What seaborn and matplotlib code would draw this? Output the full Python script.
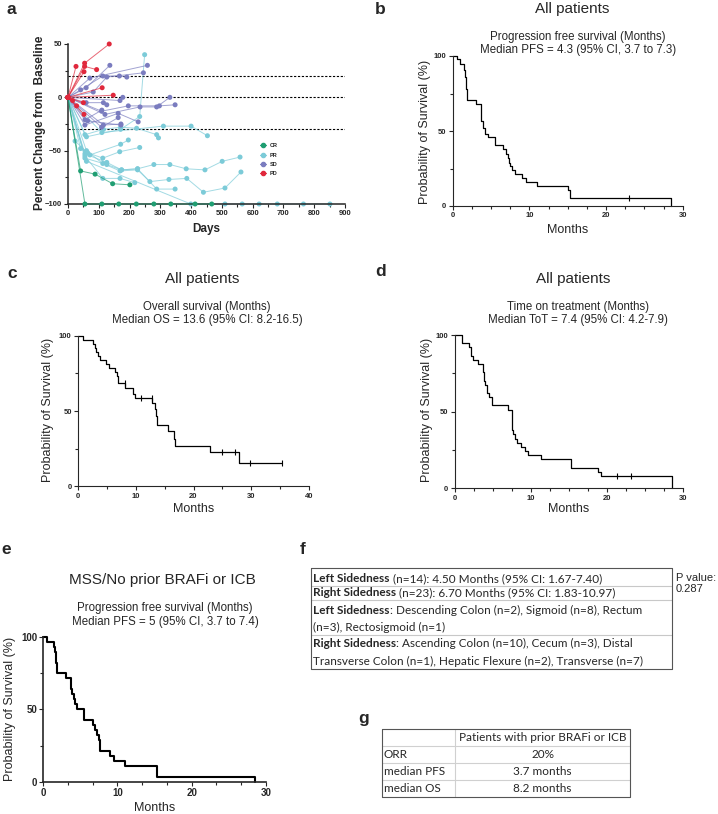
import matplotlib
matplotlib.use("Agg")
import matplotlib.pyplot as plt
from matplotlib.lines import Line2D
from matplotlib.ticker import MultipleLocator, AutoMinorLocator
import seaborn as sns
import pandas as pd

W, H = 718, 814

# ---------------- panel a: spider plot (days, % change) ----------------
CR_DAYS = [[0, 41, 88, 145, 201],
           [0, 55, 110, 165, 222, 279, 334, 413, 467]]
CR_PCT = [[0, -69, -72, -81, -82],
          [0, -100, -100, -100, -100, -100, -100, -100, -100]]

PR_DAYS = [[0, 60, 171, 233, 249],
           [0, 55, 115, 171, 223, 288, 294],
           [0, 110, 310, 400, 453],
           [0, 23, 71, 171, 196],
           [0, 41, 64, 113, 168, 233],
           [0, 55, 126, 174, 226, 279, 331, 384, 445, 501, 559],
           [0, 60, 113, 169, 226, 266, 328, 386, 440, 510, 562],
           [0, 55, 126, 174, 226, 288, 348],
           [0, 55, 113, 169, 217],
           [0, 60, 399, 510, 566, 621, 680, 765, 851]]
PR_PCT = [[0, -37, -30, -18, 40],
          [0, -35, -30, -28, -29, -35, -38],
          [0, -33, -27, -27, -36],
          [0, -41, -54, -44, -40],
          [0, -48, -52, -57, -51, -47],
          [0, -57, -63, -68, -67, -63, -63, -67, -68, -60, -56],
          [0, -50, -62, -69, -68, -79, -77, -76, -89, -85, -70],
          [0, -53, -61, -68, -67, -86, -86],
          [0, -55, -76, -76, -80],
          [0, -60, -100, -100, -100, -100, -100, -100, -100]]

SD_DAYS = [[0, 59, 136], [0, 71, 258], [0, 41, 113, 167, 191], [0, 82, 126, 245],
           [0, 59, 115, 126], [0, 169, 178], [0, 120, 234, 288, 331],
           [0, 109, 196, 297, 348], [0, 55, 163, 228], [0, 64, 172],
           [0, 115, 172], [0, 109, 163], [0, 55, 110]]
SD_PCT = [[0, 9, 30], [0, 18, 30], [0, 7, 20, 20, 19], [0, 5, 19, 23],
          [0, -5, -5, -7], [0, -3, 0], [0, -16, -9, -9, 0],
          [0, -13, -8, -8, -7], [0, -26, -15, -23], [0, -22, -26],
          [0, -26, -25], [0, -28, -19], [0, -21, -12]]

PD_DAYS = [[0, 54, 134], [0, 26], [0, 54, 93], [0, 52], [0, 111], [0, 147],
           [0, 28], [0, 50], [0, 52], [0, 15]]
PD_PCT = [[0, 32, 50], [0, 29], [0, 29, 26], [0, 24], [0, 9], [0, 2],
          [0, -8], [0, -5], [0, -16], [0, -3]]

RESP_COLORS = {"CR": "#1f9e72", "PR": "#7ccbd8", "SD": "#7a7cbf", "PD": "#e0283c"}
THRESHOLDS = [20, 0, -30]

# ---------------- KM curves (months, % surviving) ----------------
B_T = [0, 0.5, 0.9, 1.5, 1.6, 1.7, 1.8, 3.0, 3.65, 3.9, 4.2, 4.6, 5.5, 6.6, 6.9, 7.2,
       7.35, 7.5, 7.7, 8.1, 9.1, 9.6, 11.0, 15.0, 15.3, 28.5]
B_S = [100, 98, 95, 91, 86, 78, 70.5, 68, 57, 52, 48, 46, 40.7, 38, 35, 32,
       29, 27, 24, 21.6, 19, 16.2, 13.5, 11, 5.4, 0]
B_CENS_T = [23.0]
B_CENS_S = [5.4]

C_T = [0, 0.9, 2.6, 2.9, 3.2, 3.5, 3.8, 4.9, 5.4, 6.4, 6.7, 7.0, 8.2, 9.6, 9.8, 12.9,
       13.3, 13.5, 13.6, 15.5, 16.6, 16.8, 22.9, 27.9, 35.3]
C_S = [100, 97.3, 94.6, 91.9, 89.2, 86.5, 83.8, 81.1, 78.4, 75.7, 73.0, 68.5, 65.5, 61.5, 58.5, 55,
       51, 47, 41, 36.5, 31.5, 27, 22.5, 15.3, 15.3]
C_CENS_T = [8.1, 10.9, 12.8, 25.0, 27.1, 29.8, 35.3]
C_CENS_S = [68.5, 58.5, 58.5, 22.5, 22.5, 15.3, 15.3]

D_T = [0, 0.9, 1.9, 2.1, 2.4, 3.1, 3.7, 3.8, 4.0, 4.2, 4.5, 4.9, 7.0, 7.5, 7.6, 7.7,
       7.9, 8.2, 8.7, 9.3, 9.6, 11.3, 15.3, 18.9, 19.2, 28.6]
D_S = [100, 94.6, 91.9, 86.5, 83.8, 81.1, 75.7, 70.3, 67.6, 62.2, 59.5, 54.1, 51.4, 43.2, 37.8, 35.1,
       32.4, 29.7, 27.0, 24.3, 21.6, 18.9, 13.5, 10.8, 8.1, 0]
D_CENS_T = [21.3, 23.2]
D_CENS_S = [8.1, 8.1]

E_T = [0, 0.5, 1.5, 1.6, 1.7, 1.9, 3.0, 3.7, 3.9, 4.1, 4.3, 4.5, 5.5, 6.7, 7.0, 7.3,
       7.45, 7.6, 7.7, 9.0, 9.5, 11.0, 15.3, 28.5]
E_S = [100, 96.4, 92.9, 89.3, 82.1, 75, 71.4, 64.3, 60.7, 57.1, 53.6, 50, 42.9, 39.3, 35.7, 32.1,
       28.6, 25, 21.4, 17.9, 14.3, 10.7, 3.6, 0]

# ---------------- tables ----------------
F_ROWS = [
    [[("Left Sidedness", "bold"), (" (n=14): 4.50 Months (95% CI: 1.67-7.40)", "normal")]],
    [[("Right Sidedness", "bold"), (" (n=23): 6.70 Months (95% CI: 1.83-10.97)", "normal")]],
    [[("Left Sidedness", "bold"), (": Descending Colon (n=2), Sigmoid (n=8), Rectum", "normal")],
     [("(n=3), Rectosigmoid (n=1)", "normal")]],
    [[("Right Sidedness", "bold"), (": Ascending Colon (n=10), Cecum (n=3), Distal", "normal")],
     [("Transverse Colon (n=1), Hepatic Flexure (n=2), Transverse (n=7)", "normal")]],
]
P_VALUE = "P value:\n0.287"
G_HEADER = "Patients with prior BRAFi or ICB"
G_LABELS = ["ORR", "median PFS", "median OS"]
G_VALUES = ["20%", "3.7 months", "8.2 months"]

sns.set_style("ticks")
plt.rcParams['font.family'] = ['Liberation Sans', 'DejaVu Sans']
plt.rcParams['axes.linewidth'] = 0.8

fig = plt.figure(figsize=(W / 100, H / 100), dpi=100)


def px_axes(x0, x1, y0, y1):
    return fig.add_axes([x0 / W, 1 - y1 / H, (x1 - x0) / W, (y1 - y0) / H])


def bold_ticks(ax, size):
    ax.tick_params(labelsize=size, length=3, width=0.8, pad=1.5)
    ax.tick_params(which="minor", length=2, width=0.8)
    for lab in ax.get_xticklabels() + ax.get_yticklabels():
        lab.set_fontweight("bold")


# ---- a
ax = px_axes(68, 345, 44, 204)
rows = []
for resp, days, pcts in [("PR", PR_DAYS, PR_PCT), ("CR", CR_DAYS, CR_PCT),
                         ("SD", SD_DAYS, SD_PCT), ("PD", PD_DAYS, PD_PCT)]:
    for i, (d, p) in enumerate(zip(days, pcts)):
        for dd, pp in zip(d, p):
            rows.append({"resp": resp, "pid": f"{resp}{i}", "day": dd, "pct": pp})
spider = pd.DataFrame(rows)

for y in THRESHOLDS:
    ax.axhline(y, color="black", lw=0.8, ls=(0, (2, 1.5)), zorder=1)
for k, resp in enumerate(["PR", "CR", "SD", "PD"]):
    sub = spider[spider.resp == resp]
    sns.lineplot(data=sub, x="day", y="pct", units="pid", estimator=None, sort=False,
                 color=RESP_COLORS[resp], lw=0.7, alpha=0.7, ax=ax, legend=False,
                 zorder=2 + k, clip_on=False)
    sns.scatterplot(data=sub, x="day", y="pct", color=RESP_COLORS[resp], s=13,
                    edgecolor="none", ax=ax, legend=False, zorder=2.5 + k, clip_on=False)
ax.set_xlim(0, 900)
ax.set_ylim(-100, 50)
ax.set_xticks(range(0, 901, 100))
ax.set_yticks([-100, -50, 0, 50])
ax.xaxis.set_minor_locator(MultipleLocator(50))
ax.yaxis.set_minor_locator(MultipleLocator(25))
sns.despine(ax=ax)
for sp in ax.spines.values():
    sp.set_linewidth(1.1)
bold_ticks(ax, 5.5)
ax.set_xlabel("Days", fontsize=8.5, fontweight="bold", va="center")
ax.set_ylabel("Percent Change from  Baseline", fontsize=8.5, fontweight="bold", va="center")
ax.xaxis.set_label_coords(0.5, -0.156)
ax.yaxis.set_label_coords(-0.101, 0.51)
handles = [Line2D([0], [0], color=RESP_COLORS[r], marker="o", ms=3, lw=0.8) for r in ["CR", "PR", "SD", "PD"]]
ax.legend(handles, ["CR", "PR", "SD", "PD"], loc="upper left", bbox_to_anchor=(0.675, 0.41),
          frameon=False, prop={"size": 4, "weight": "bold"}, handlelength=1.0,
          labelspacing=0.75, handletextpad=0.8)


# ---- KM panels
def km_panel(box, t, s, cens_t, cens_s, xmax, nminor, lw, spw, ticksize, xlab_y, ylab_x, ylab_y):
    ax = px_axes(*box)
    km = pd.DataFrame({"Months": t, "Survival": s})
    sns.lineplot(data=km, x="Months", y="Survival", drawstyle="steps-post", estimator=None,
                 sort=False, color="black", lw=lw, ax=ax, clip_on=False)
    if cens_t:
        sns.scatterplot(x=cens_t, y=cens_s, marker="|", s=18, color="black",
                        linewidth=0.8, ax=ax, legend=False, clip_on=False)
    ax.set_xlim(0, xmax)
    ax.set_ylim(0, 100)
    ax.set_xticks(range(0, xmax + 1, 10))
    ax.set_yticks([0, 50, 100])
    ax.xaxis.set_minor_locator(AutoMinorLocator(nminor))
    ax.yaxis.set_minor_locator(MultipleLocator(25))
    sns.despine(ax=ax)
    for sp in ax.spines.values():
        sp.set_linewidth(spw)
    bold_ticks(ax, ticksize)
    ax.set_xlabel("Months", fontsize=9, va="center")
    ax.set_ylabel("Probability of Survival (%)", fontsize=9, va="center")
    ax.xaxis.set_label_coords(0.5, xlab_y)
    ax.yaxis.set_label_coords(ylab_x, ylab_y)
    return ax


km_panel((452.7, 682.7, 56, 206), B_T, B_S, B_CENS_T, B_CENS_S, 30, 4, 0.9, 0.8, 5.5, -0.16, -0.12, 0.495)
km_panel((78, 309, 335.7, 486.3), C_T, C_S, C_CENS_T, C_CENS_S, 40, 2, 0.9, 0.8, 5.5, -0.15, -0.129, 0.507)
km_panel((454.7, 682.7, 335, 488.3), D_T, D_S, D_CENS_T, D_CENS_S, 30, 4, 0.9, 0.8, 5.5, -0.135, -0.123, 0.51)
km_panel((43.3, 265.7, 636.7, 782), E_T, E_S, [], [], 30, 3, 1.5, 1.2, 7, -0.179, -0.15, 0.502)

# ---- overlay for texts and tables (pixel coordinates)
ov = fig.add_axes([0, 0, 1, 1])
ov.set_xlim(0, W)
ov.set_ylim(H, 0)
ov.axis("off")

for letter, x, y in [("a", 11, 10), ("b", 380, 9), ("c", 12, 273), ("d", 381, 272),
                     ("e", 6, 549), ("f", 303, 549), ("g", 364, 718)]:
    ov.text(x, y, letter, fontsize=12.5, fontweight="bold", ha="center", va="center")

for title, sub1, sub2, cx, cy, sx in [
        ("All patients", "Progression free survival (Months)", "Median PFS = 4.3 (95% CI, 3.7 to 7.3)", 572, 9, 578),
        ("All patients", "Overall survival (Months)", "Median OS = 13.6 (95% CI: 8.2-16.5)", 202, 279, 207),
        ("All patients", "Time on treatment (Months)", "Median ToT = 7.4 (95% CI: 4.2-7.9)", 573, 279, 578),
        ("MSS/No prior BRAFi or ICB", "Progression free survival (Months)", "Median PFS = 5 (95% CI, 3.7 to 7.4)", 162.5, 580, 165)]:
    ov.text(cx, cy, title, fontsize=11, ha="center", va="center")
    ov.text(sx, cy + 28, sub1, fontsize=8.3, ha="center", va="center")
    ov.text(sx, cy + 41.5, sub2, fontsize=8.3, ha="center", va="center")

# table f
TFONT = "Lato"
TSIZE = 8.5
fx0, fx1 = 310.7, 672
row_lines = [568.3, 585.7, 600, 635, 669]
line_y = [[578.3], [592.7], [610, 627.3], [643.3, 661.7]]
for y in row_lines[1:-1]:
    ov.plot([fx0, fx1], [y, y], color="#c8c8c8", lw=0.8)
ov.plot([fx0, fx1, fx1, fx0, fx0], [row_lines[0], row_lines[0], row_lines[-1], row_lines[-1], row_lines[0]],
        color="#555555", lw=0.8)
renderer = fig.canvas.get_renderer()
for row, ys in zip(F_ROWS, line_y):
    for parts, y in zip(row, ys):
        x = 313
        for txt, wt in parts:
            t = ov.text(x, y, txt, fontsize=TSIZE, fontweight=wt, family=TFONT, ha="left", va="center")
            x = t.get_window_extent(renderer).x1
ov.text(676, 583.5, P_VALUE, fontsize=8, ha="left", va="center", linespacing=1.15)

# table g
gx0, gx1, gsplit = 381.7, 630.3, 455
g_lines = [729.3, 746.2, 763.1, 780, 796.7]
for y in g_lines[1:-1]:
    ov.plot([gx0, gx1], [y, y], color="#d0d0d0", lw=0.8)
ov.plot([gsplit, gsplit], [g_lines[0], g_lines[-1]], color="#d0d0d0", lw=0.8)
ov.plot([gx0, gx1, gx1, gx0, gx0], [g_lines[0], g_lines[0], g_lines[-1], g_lines[-1], g_lines[0]],
        color="#555555", lw=0.8)
gcx = (gsplit + gx1) / 2
ov.text(gcx, (g_lines[0] + g_lines[1]) / 2, G_HEADER, fontsize=TSIZE, family=TFONT, ha="center", va="center")
for i, (lab, val) in enumerate(zip(G_LABELS, G_VALUES)):
    yc = (g_lines[i + 1] + g_lines[i + 2]) / 2
    ov.text(383.5, yc, lab, fontsize=TSIZE, family=TFONT, ha="left", va="center")
    ov.text(gcx, yc, val, fontsize=TSIZE, family=TFONT, ha="center", va="center")

fig.savefig("out.png", dpi=100)
